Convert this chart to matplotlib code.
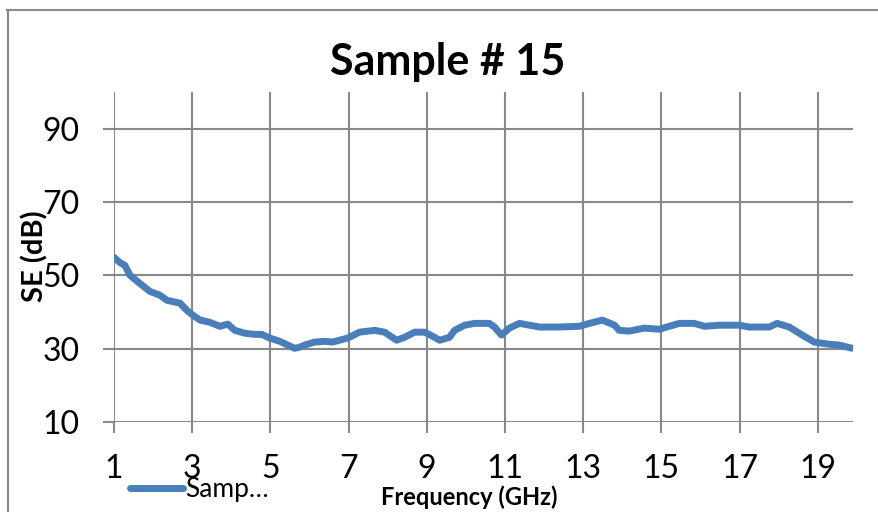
import matplotlib
matplotlib.use("Agg")
import matplotlib.pyplot as plt
from matplotlib.lines import Line2D

plt.rcParams['font.family'] = ['Lato', 'DejaVu Sans']

# Shielding effectiveness measurement, Sample # 15
freq_ghz = [1.00, 1.15, 1.28, 1.41, 1.66, 1.92, 2.17, 2.35, 2.56, 2.69, 2.86,
            3.02, 3.20, 3.45, 3.71, 3.91, 4.09, 4.35, 4.60, 4.78, 4.98, 5.24,
            5.50, 5.62, 5.75, 5.88, 6.13, 6.39, 6.59, 6.98, 7.28, 7.67, 7.92,
            8.23, 8.43, 8.69, 8.94, 9.20, 9.33, 9.58, 9.71, 9.97, 10.22, 10.60,
            10.73, 10.91, 11.11, 11.37, 11.88, 12.39, 12.90, 13.16, 13.49,
            13.80, 13.92, 14.18, 14.56, 14.95, 15.20, 15.46, 15.84, 16.10,
            16.48, 16.99, 17.25, 17.76, 17.96, 18.27, 18.65, 18.91, 19.29,
            19.54, 19.88]
se_db = [54.9, 53.5, 52.7, 50.0, 47.8, 45.6, 44.6, 43.2, 42.7, 42.4, 40.5,
         39.1, 37.8, 37.2, 36.1, 36.7, 35.0, 34.2, 33.9, 33.9, 32.9, 32.0,
         30.7, 30.1, 30.4, 31.0, 31.8, 32.0, 31.8, 32.9, 34.5, 35.0, 34.5,
         32.3, 33.1, 34.5, 34.5, 33.1, 32.3, 33.1, 35.0, 36.4, 36.9, 36.9,
         35.9, 33.7, 35.6, 36.9, 35.9, 35.9, 36.1, 36.9, 37.8,
         36.4, 35.0, 34.8, 35.6, 35.3, 36.1, 36.9, 36.9, 36.1,
         36.4, 36.4, 35.9, 35.9, 36.9, 35.9, 33.4, 31.8, 31.2,
         31.0, 30.1]

x_ticks = [1, 3, 5, 7, 9, 11, 13, 15, 17, 19]
y_ticks = [10, 30, 50, 70, 90]

title = "Sample # 15"
x_label = "Frequency (GHz)"
y_label = "SE (dB)"
series_name = "Samp\u2026"

W, H = 879, 512
fig = plt.figure(figsize=(W / 100, H / 100), dpi=100)

grid_color = "#888888"
line_color = "#4A7EBB"

ax = fig.add_axes([114 / W, 1 - 422 / H, (853 - 114) / W, (422 - 92) / H])
ax.set_xlim(1, 19.9)
ax.set_ylim(10, 100)
ax.set_xticks(x_ticks)
ax.set_yticks(y_ticks)
for s in ax.spines.values():
    s.set_visible(False)
ax.grid(True, color=grid_color, linewidth=1.5, zorder=0)
ax.set_axisbelow(True)
ax.tick_params(axis='both', length=8, width=1.5, color=grid_color,
               labelsize=23, labelcolor='black')
ax.tick_params(axis='x', pad=15)
ax.tick_params(axis='y', pad=17)

series, = ax.plot(freq_ghz, se_db, color=line_color, linewidth=5,
                  solid_capstyle='round', solid_joinstyle='round', zorder=3)

fig.text(448 / W, 1 - 75 / H, title, ha='center', va='baseline',
         fontsize=31, fontweight='bold')
fig.text(469 / W, 1 - 505 / H, x_label, ha='center', va='baseline',
         fontsize=17, fontweight='bold')
fig.text(35 / W, 1 - 256 / H, y_label, ha='center', va='center',
         rotation=90, fontsize=21, fontweight='bold')

fig.legend(handles=[series], labels=[series_name], loc='center left',
           bbox_to_anchor=(130 / W, 1 - 490 / H), frameon=False,
           fontsize=19, handlelength=2.0, handletextpad=0.1,
           borderpad=0, borderaxespad=0)

# outer chart frame
fig.add_artist(Line2D([7 / W, 1.0], [1 - 10 / H, 1 - 10 / H],
                      transform=fig.transFigure, color=grid_color, linewidth=1.5))
fig.add_artist(Line2D([8 / W, 8 / W], [1 - 10 / H, 0.0],
                      transform=fig.transFigure, color=grid_color, linewidth=1.5))

fig.savefig("out.png", dpi=100)
